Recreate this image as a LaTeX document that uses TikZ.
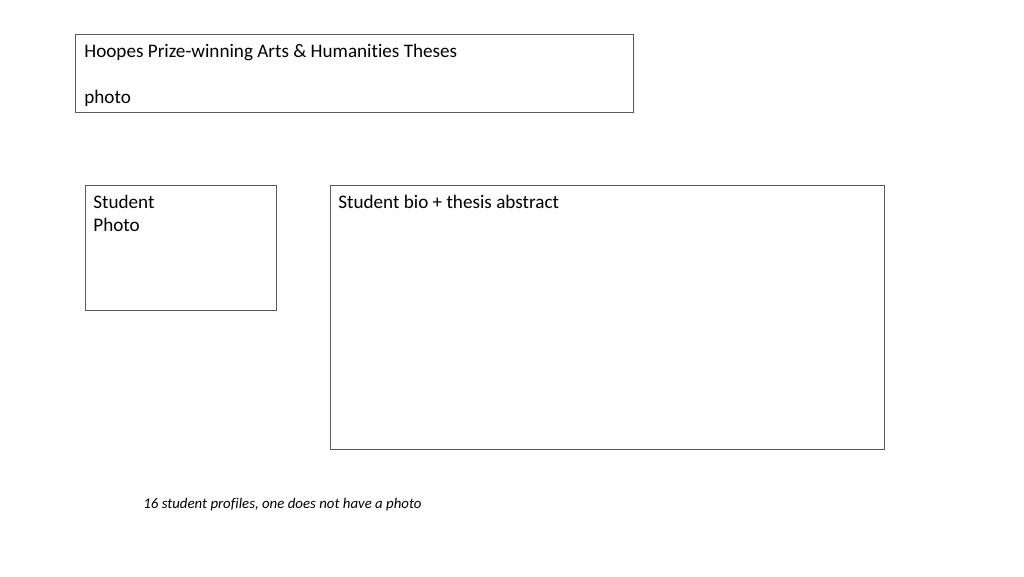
\documentclass[tikz,border=0pt]{standalone}
\usepackage{fontspec}
\setmainfont{Carlito}[Ligatures={NoCommon}]
\usepackage{tikz}
\usetikzlibrary{positioning}

\begin{document}
\begin{tikzpicture}[x=0.02cm, y=-0.02cm]
\tikzstyle{box}=[draw=black!65, line width=0.6pt, inner sep=0pt, anchor=north west]
\tikzstyle{txt}=[inner sep=0pt, anchor=base west, font=\fontsize{10.9}{13}\selectfont]
\useasboundingbox (0,0) rectangle (1024,576);
\node[box, minimum width=558*0.02cm, minimum height=78*0.02cm] (Title) at (75,34) {};
\node[box, minimum width=191*0.02cm, minimum height=125*0.02cm] (Photo) at (85,185) {};
\node[box, minimum width=554*0.02cm, minimum height=264*0.02cm] (Bio) at (330,185) {};
\node[txt] (TitleText) at (84,57) {Hoopes Prize-winning Arts \& Humanities Theses};
\node[txt] (TitlePhoto) at (84,103) {photo};
\node[txt] (PhotoText1) at (93,208) {Student};
\node[txt] (PhotoText2) at (93,231) {Photo};
\node[txt] (BioText) at (338,208) {Student bio + thesis abstract};
\node[txt, font=\fontsize{8.45}{10}\selectfont\itshape] (Note) at (143,508) {16 student profiles, one does not have a photo};
\end{tikzpicture}
\end{document}
